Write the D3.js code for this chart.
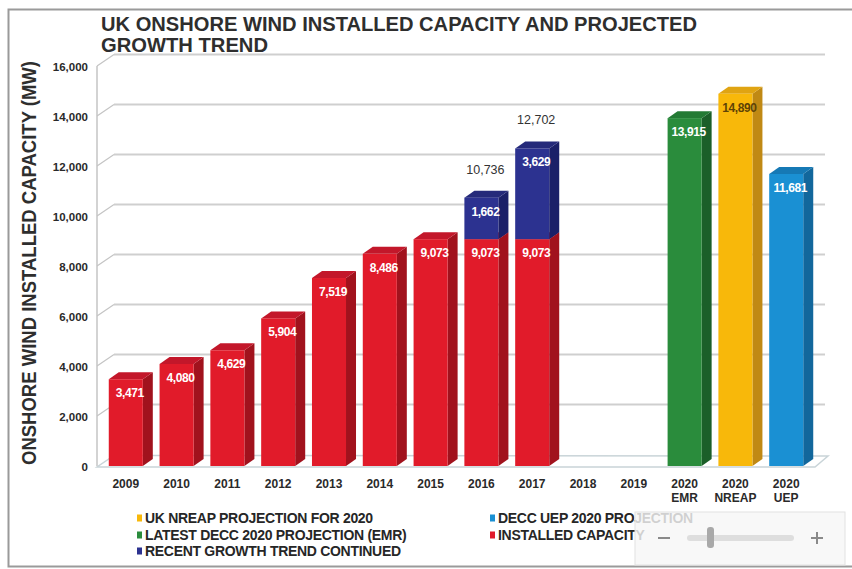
<!DOCTYPE html>
<html>
<head>
<meta charset="utf-8">
<script src="https://cdn.jsdelivr.net/npm/d3@7/dist/d3.min.js"></script>
<style>
  html, body { margin: 0; padding: 0; background: #ffffff; }
  svg { display: block; font-family: "Liberation Sans", Arial, sans-serif; }
</style>
</head>
<body>
<svg id="chart" width="852" height="569"></svg>
<script>
// ---- data -------------------------------------------------------------
const categories = ["2009", "2010", "2011", "2012", "2013", "2014", "2015",
                    "2016", "2017", "2018", "2019", "2020 EMR", "2020 NREAP", "2020 UEP"];
const installedCapacity = [3471, 4080, 4629, 5904, 7519, 8486, 9073, 9073, 9073,
                           null, null, null, null, null];
const growthTrend = [null, null, null, null, null, null, null, 1662, 3629,
                     null, null, null, null, null];
const trendTotalLabels = [null, null, null, null, null, null, null, 10736, 12702,
                          null, null, null, null, null];
const emrProjection   = [null, null, null, null, null, null, null, null, null, null, null, 13915, null, null];
const nreapProjection = [null, null, null, null, null, null, null, null, null, null, null, null, 14890, null];
const uepProjection   = [null, null, null, null, null, null, null, null, null, null, null, null, null, 11681];
const yTicks = [0, 2000, 4000, 6000, 8000, 10000, 12000, 14000, 16000];

const legendItems = [
  { label: "UK NREAP PROJECTION FOR 2020", key: "nreap" },
  { label: "DECC UEP 2020 PROJECTION", key: "uep" },
  { label: "LATEST DECC 2020 PROJECTION (EMR)", key: "emr" },
  { label: "INSTALLED CAPACITY", key: "installed" },
  { label: "RECENT GROWTH TREND CONTINUED", key: "trend" }
];

// face colours for each series: front, side, top, label colour
const palette = {
  installed: { front: "#e11b2a", side: "#a1121d", top: "#c3172a", text: "#ffffff" },
  trend:     { front: "#2c3290", side: "#1b2068", top: "#252a7a", text: "#ffffff" },
  emr:       { front: "#2a8c3c", side: "#1b5f29", top: "#237a34", text: "#ffffff" },
  nreap:     { front: "#f8b80a", side: "#c08914", top: "#e0a412", text: "#5e4306" },
  uep:       { front: "#1a90d3", side: "#12679c", top: "#1679b5", text: "#ffffff" }
};

// ---- layout -----------------------------------------------------------
const svg = d3.select("#chart");
const wallDX = 17, wallDY = 11.5;   // depth of the back wall
const barDX = 10, barDY = 7;        // depth of each bar

const x = d3.scaleBand().domain(categories).range([92, 820]).padding(0.33);
const y = d3.scaleLinear().domain([0, 16000]).range([466, 66]);
const wallLeft = 97, wallRight = 825;

// outer frame
svg.append("rect")
  .attr("x", 8.5).attr("y", 9.5).attr("width", 850).attr("height", 557)
  .attr("fill", "none").attr("stroke", "#9a9a9a").attr("stroke-width", 2);

// title
const title = svg.append("g").attr("fill", "#2e2e2e").attr("font-weight", "bold")
  .attr("font-size", 20);
title.append("text").attr("x", 101).attr("y", 30.5)
  .attr("textLength", 596).attr("lengthAdjust", "spacingAndGlyphs")
  .text("UK ONSHORE WIND INSTALLED CAPACITY AND PROJECTED");
title.append("text").attr("x", 101).attr("y", 51.5)
  .attr("textLength", 167).attr("lengthAdjust", "spacingAndGlyphs")
  .text("GROWTH TREND");

// back wall grid lines and their slanted connectors
const grid = svg.append("g");
yTicks.filter(d => d > 0).forEach(v => {
  grid.append("line")
    .attr("x1", wallLeft + wallDX).attr("x2", wallRight)
    .attr("y1", y(v) - wallDY).attr("y2", y(v) - wallDY)
    .attr("stroke", "#cfcfcf").attr("stroke-width", 2);
  grid.append("line")
    .attr("x1", wallLeft).attr("y1", y(v))
    .attr("x2", wallLeft + wallDX).attr("y2", y(v) - wallDY)
    .attr("stroke", "#c4c4c4").attr("stroke-width", 1.2);
});
// left wall edge
grid.append("line")
  .attr("x1", wallLeft).attr("x2", wallLeft)
  .attr("y1", y(0)).attr("y2", y(16000))
  .attr("stroke", "#c4c4c4").attr("stroke-width", 1.5);

// floor
svg.append("path")
  .attr("d", d3.line()([
    [wallLeft, y(0) + 1], [815, y(0) + 1], [wallRight + 3, y(0) - 10],
    [wallLeft + wallDX, y(0) - wallDY + 1]
  ]) + "Z")
  .attr("fill", "#ffffff").attr("stroke", "#c9d4d8").attr("stroke-width", 1.5);

// y axis labels
const yAxis = d3.axisLeft(y).tickValues(yTicks).tickSize(0).tickPadding(0)
  .tickFormat(d3.format(","));
svg.append("g").attr("transform", "translate(88,1)").call(yAxis)
  .call(g => g.select(".domain").remove())
  .selectAll("text")
  .attr("font-family", "Liberation Sans, Arial, sans-serif")
  .attr("font-size", 11.5).attr("font-weight", "bold").attr("fill", "#2a2a2a");

// y axis title
svg.append("text")
  .attr("transform", "translate(36,263) rotate(-90)")
  .attr("text-anchor", "middle")
  .attr("font-size", 20).attr("font-weight", "bold").attr("fill", "#2e2e2e")
  .attr("textLength", 404).attr("lengthAdjust", "spacingAndGlyphs")
  .text("ONSHORE WIND INSTALLED CAPACITY (MW)");

// x axis labels (second line for the 2020 projections)
const xLabels = svg.append("g").attr("font-size", 12).attr("font-weight", "bold")
  .attr("fill", "#2a2a2a").attr("text-anchor", "middle");
categories.forEach(c => {
  const parts = c.split(" ");
  const t = xLabels.append("text").attr("x", x(c) + x.bandwidth() / 2).attr("y", 487.5);
  parts.forEach((p, i) => {
    t.append("tspan").attr("x", x(c) + x.bandwidth() / 2)
      .attr("dy", i === 0 ? 0 : 14.5).text(p);
  });
});

// ---- 3D bars ------------------------------------------------------------
const barsG = svg.append("g");
function drawBar(cat, v0, v1, key, withTop) {
  const c = palette[key];
  const x0 = x(cat), x1 = x(cat) + x.bandwidth();
  const yb = y(v0), yt = y(v1);
  const g = barsG.append("g");
  // side face
  g.append("path").attr("d", d3.line()([
    [x1, yb], [x1 + barDX, yb - barDY], [x1 + barDX, yt - barDY], [x1, yt]
  ]) + "Z").attr("fill", c.side);
  // top face
  if (withTop) {
    g.append("path").attr("d", d3.line()([
      [x0, yt], [x0 + barDX, yt - barDY], [x1 + barDX, yt - barDY], [x1, yt]
    ]) + "Z").attr("fill", c.top);
  }
  // front face
  g.append("rect").attr("x", x0).attr("y", yt)
    .attr("width", x.bandwidth()).attr("height", yb - yt).attr("fill", c.front);
}

function valueLabel(cat, vTop, value, key) {
  svg.append("text")
    .attr("x", x(cat) + x.bandwidth() / 2 + 4).attr("y", y(vTop) + 18)
    .attr("text-anchor", "middle").attr("font-size", 12).attr("font-weight", "bold")
    .attr("letter-spacing", -0.4).attr("fill", palette[key].text)
    .text(d3.format(",")(value));
}

categories.forEach((cat, i) => {
  const base = installedCapacity[i];
  const extra = growthTrend[i];
  if (base != null) drawBar(cat, 0, base, "installed", true);
  if (extra != null) drawBar(cat, base, base + extra, "trend", true);
  [["emr", emrProjection], ["nreap", nreapProjection], ["uep", uepProjection]].forEach(([k, arr]) => {
    if (arr[i] != null) drawBar(cat, 0, arr[i], k, true);
  });
});

// value labels
categories.forEach((cat, i) => {
  const base = installedCapacity[i];
  const extra = growthTrend[i];
  if (base != null) valueLabel(cat, base, base, "installed");
  if (extra != null) {
    valueLabel(cat, base + extra, extra, "trend");
    svg.append("text")
      .attr("x", x(cat) + x.bandwidth() / 2 + 4).attr("y", y(base + extra) - 24)
      .attr("text-anchor", "middle").attr("font-size", 12.5).attr("fill", "#333333")
      .text(d3.format(",")(trendTotalLabels[i]));
  }
  [["emr", emrProjection], ["nreap", nreapProjection], ["uep", uepProjection]].forEach(([k, arr]) => {
    if (arr[i] != null) valueLabel(cat, arr[i], arr[i], k);
  });
});

// ---- legend -------------------------------------------------------------
const legendPos = [
  [137, 518], [490, 518], [137, 535], [490, 535], [137, 551]
];
const legend = svg.append("g").attr("font-size", 14).attr("font-weight", "bold")
  .attr("fill", "#262626");
legendItems.forEach((d, i) => {
  const [lx, ly] = legendPos[i];
  legend.append("rect").attr("x", lx).attr("y", ly - 3.5).attr("width", 5).attr("height", 7)
    .attr("fill", palette[d.key].front);
  legend.append("text").attr("x", lx + 8).attr("y", ly + 5).attr("letter-spacing", -0.3)
    .text(d.label);
});

// zoom slider panel overlaying the lower right corner
const zoomPanel = svg.append("g");
zoomPanel.append("rect").attr("x", 635).attr("y", 512).attr("width", 210).attr("height", 53)
  .attr("fill", "#f6f6f6").attr("fill-opacity", 0.82).attr("stroke", "#e2e2e2");
zoomPanel.append("line").attr("x1", 658).attr("x2", 670).attr("y1", 538).attr("y2", 538)
  .attr("stroke", "#8a8a8a").attr("stroke-width", 2);
zoomPanel.append("rect").attr("x", 687).attr("y", 535).attr("width", 107).attr("height", 6)
  .attr("rx", 3).attr("fill", "#dedede");
zoomPanel.append("rect").attr("x", 707).attr("y", 527).attr("width", 7).attr("height", 21)
  .attr("rx", 3).attr("fill", "#a9a9a9");
zoomPanel.append("line").attr("x1", 811).attr("x2", 823).attr("y1", 538).attr("y2", 538)
  .attr("stroke", "#8a8a8a").attr("stroke-width", 2);
zoomPanel.append("line").attr("x1", 817).attr("x2", 817).attr("y1", 532).attr("y2", 544)
  .attr("stroke", "#8a8a8a").attr("stroke-width", 2);
</script>
</body>
</html>
